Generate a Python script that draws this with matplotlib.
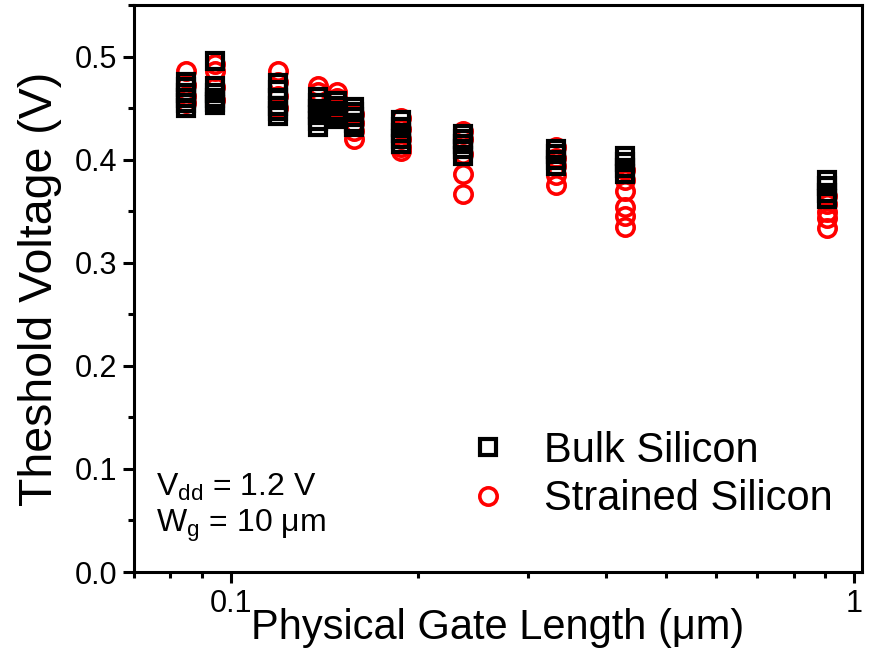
import matplotlib
matplotlib.use("Agg")
import matplotlib.pyplot as plt
from matplotlib.ticker import FixedLocator, NullFormatter, FuncFormatter, MultipleLocator

plt.rcParams['font.family'] = ['Liberation Sans', 'DejaVu Sans']
plt.rcParams['mathtext.fontset'] = 'custom'
plt.rcParams['mathtext.rm'] = 'Liberation Sans'
plt.rcParams['mathtext.it'] = 'Liberation Sans'

# Gate length positions (um) of each measurement group
gate_lengths = [0.0847, 0.0943, 0.119, 0.138, 0.148, 0.158, 0.188, 0.236, 0.333, 0.43, 0.905]

bulk_vt = [
    [0.475, 0.470, 0.465, 0.460, 0.455, 0.450],
    [0.496, 0.471, 0.465, 0.460, 0.456, 0.453],
    [0.474, 0.468, 0.460, 0.452, 0.447, 0.442],
    [0.461, 0.455, 0.449, 0.443, 0.437, 0.432],
    [0.457, 0.452, 0.447, 0.443, 0.439],
    [0.451, 0.446, 0.441, 0.436, 0.432],
    [0.438, 0.432, 0.426, 0.420, 0.415],
    [0.425, 0.420, 0.415, 0.410, 0.404],
    [0.410, 0.405, 0.400, 0.394],
    [0.404, 0.398, 0.392, 0.386],
    [0.380, 0.374, 0.368, 0.362],
]

strained_vt = [
    [0.486, 0.472, 0.462, 0.455],
    [0.493, 0.486, 0.470, 0.458],
    [0.486, 0.475, 0.462, 0.450],
    [0.471, 0.466, 0.455],
    [0.466, 0.460, 0.450],
    [0.444, 0.436, 0.428, 0.420],
    [0.440, 0.430, 0.420, 0.412, 0.408],
    [0.428, 0.420, 0.405, 0.386, 0.367],
    [0.412, 0.402, 0.394, 0.385, 0.375],
    [0.390, 0.380, 0.370, 0.354, 0.345, 0.335],
    [0.365, 0.357, 0.349, 0.343, 0.334],
]

series_labels = ["Bulk Silicon", "Strained Silicon"]
x_major_ticks = [0.1, 1]
x_tick_labels = ["0.1", "1"]


def flatten(groups):
    xs, ys = [], []
    for x, vals in zip(gate_lengths, groups):
        for v in vals:
            xs.append(x)
            ys.append(v)
    return xs, ys


fig = plt.figure(figsize=(8.74, 6.51), dpi=100)
ax = fig.add_axes([134 / 874, 1 - 572 / 651, (862 - 134) / 874, (572 - 5) / 651])

sx, sy = flatten(strained_vt)
bx, by = flatten(bulk_vt)
ax.plot(sx, sy, linestyle='none', marker='o', ms=12.5, mew=2.6,
        mfc='none', mec='#ff0000', label=series_labels[1], zorder=2)
ax.plot(bx, by, linestyle='none', marker='s', ms=11, mew=3.0,
        mfc='none', mec='black', label=series_labels[0], zorder=3)

ax.set_xscale('log')
ax.set_xlim(0.07, 1.03)
ax.set_ylim(0.0, 0.55)

ax.xaxis.set_major_locator(FixedLocator(x_major_ticks))
ax.xaxis.set_major_formatter(FuncFormatter(
    lambda v, p: x_tick_labels[x_major_ticks.index(v)] if v in x_major_ticks else ""))
ax.xaxis.set_minor_locator(FixedLocator([0.07, 0.08, 0.09, 0.2, 0.3, 0.4, 0.5, 0.6, 0.7, 0.8, 0.9]))
ax.xaxis.set_minor_formatter(NullFormatter())
ax.yaxis.set_major_locator(MultipleLocator(0.1))
ax.yaxis.set_minor_locator(MultipleLocator(0.05))
ax.yaxis.set_major_formatter(FuncFormatter(lambda v, p: f"{v:.1f}"))

for s in ax.spines.values():
    s.set_linewidth(2.2)
ax.tick_params(which='major', direction='out', length=8, width=2.2, labelsize=22, pad=4)
ax.tick_params(which='minor', direction='out', length=4.5, width=2.2)
ax.tick_params(top=False, right=False, which='both')

ax.set_xlabel("Physical Gate Length (\u03bcm)", fontsize=30, labelpad=-8)
ax.set_ylabel("Theshold Voltage (V)", fontsize=33.5)
ax.yaxis.set_label_coords(-0.099, 0.5)

handles, labels = ax.get_legend_handles_labels()
order = [1, 0]
ax.legend([handles[i] for i in order], [labels[i] for i in order],
          loc='lower right', bbox_to_anchor=(1.011, 0.027), frameon=False,
          fontsize=30, handletextpad=0.85, labelspacing=0.2, handlelength=1.0,
          markerscale=1.0)

ax.text(0.03, 0.150, "V$_{\\rm dd}$ = 1.2 V", transform=ax.transAxes, fontsize=23, va='center')
ax.text(0.03, 0.082, "W$_{\\rm g}$ = 10 \u03bcm", transform=ax.transAxes, fontsize=23, va='center')

fig.savefig("out.png", dpi=100)
